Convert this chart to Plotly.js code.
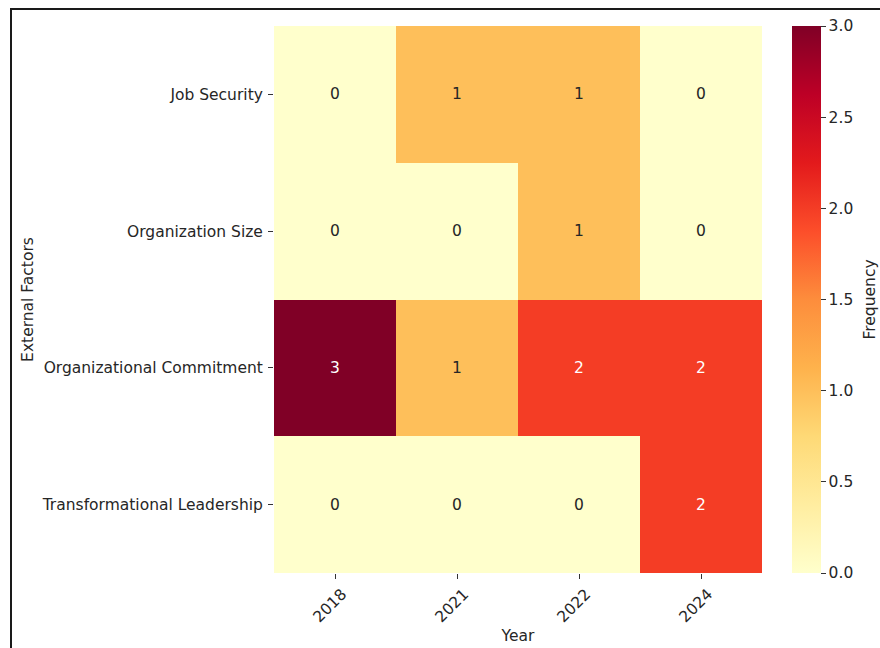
<!DOCTYPE html>
<html>
<head>
<meta charset="utf-8">
<script src="https://cdn.plot.ly/plotly-3.0.1.min.js"></script>
<style>
  html, body { margin: 0; padding: 0; background: #fff; overflow: hidden; }
  #wrap { position: relative; width: 880px; height: 648px; }
  #chart { position: absolute; left: 0; top: 0; width: 880px; height: 648px; }
  #frame { position: absolute; left: 10px; top: 8px; width: 900px; height: 700px;
           border-left: 2px solid #1a1a1a; border-top: 2px solid #1a1a1a; pointer-events: none; }
</style>
</head>
<body>
<div id="wrap">
  <div id="chart"></div>
  <div id="frame"></div>
</div>
<script>
// Years on the x axis, factors on the y axis (top to bottom)
const years = ['2018', '2021', '2022', '2024'];
const factors = ['Job Security', 'Organization Size', 'Organizational Commitment', 'Transformational Leadership'];

// Frequency counts, one row per factor
const jobSecurity = [0, 1, 1, 0];
const organizationSize = [0, 0, 1, 0];
const organizationalCommitment = [3, 1, 2, 2];
const transformationalLeadership = [0, 0, 0, 2];

const colorbarTicks = [0, 0.5, 1, 1.5, 2, 2.5, 3];

const z = [jobSecurity, organizationSize, organizationalCommitment, transformationalLeadership];

// Cell positions are indices; labels come from the arrays above
const xIdx = years.map((_, i) => i);
const yIdx = factors.map((_, i) => i);

// YlOrRd sequential scale
const ylOrRd = [
  [0.0, '#ffffcc'], [0.125, '#ffeda0'], [0.25, '#fed976'], [0.375, '#feb24c'],
  [0.5, '#fd8d3c'], [0.625, '#fc4e2a'], [0.75, '#e31a1c'], [0.875, '#bd0026'], [1.0, '#800026']
];

const font = 'DejaVu Sans, sans-serif';
const fs = 15.5;
const ink = '#262626';
const zmax = 3;

// Cell value labels, light text on the darker cells
const annotations = [];
z.forEach((row, i) => {
  row.forEach((v, j) => {
    annotations.push({
      x: xIdx[j], y: yIdx[i], xref: 'x', yref: 'y',
      text: String(v), showarrow: false,
      font: { family: font, size: fs, color: v / zmax > 0.5 ? '#ffffff' : ink }
    });
  });
});

// Colorbar title, rotated, to the right of the tick labels
annotations.push({
  x: 1.2213, y: 0.5, xref: 'paper', yref: 'paper',
  xanchor: 'center', yanchor: 'middle',
  text: 'Frequency', textangle: -90, showarrow: false,
  font: { family: font, size: fs, color: ink }
});

const trace = {
  type: 'heatmap',
  x: xIdx,
  y: yIdx,
  z: z,
  zmin: 0,
  zmax: zmax,
  colorscale: ylOrRd,
  xgap: 0, ygap: 0,
  hoverinfo: 'skip',
  colorbar: {
    x: 1.0615, xanchor: 'left', xref: 'paper',
    y: 0.5, yanchor: 'middle',
    len: 1, lenmode: 'fraction',
    xpad: 0, ypad: 0,
    thickness: 29, thicknessmode: 'pixels',
    outlinewidth: 0,
    tickmode: 'array', tickvals: colorbarTicks,
    ticktext: colorbarTicks.map(t => t.toFixed(1)),
    ticks: 'outside', ticklen: 5, tickcolor: '#333', tickwidth: 1,
    tickfont: { family: font, size: fs, color: ink }
  }
};

const layout = {
  width: 880, height: 648,
  margin: { l: 274, r: 118, t: 26, b: 75, autoexpand: false },
  paper_bgcolor: '#ffffff', plot_bgcolor: '#ffffff',
  font: { family: font, size: fs, color: ink },
  xaxis: {
    range: [-0.5, years.length - 0.5],
    tickmode: 'array', tickvals: xIdx, ticktext: years,
    showgrid: false, zeroline: false, showline: false,
    ticks: 'outside', ticklen: 5, tickcolor: '#333', tickwidth: 1,
    tickangle: -45,
    ticklabelshift: 7,
    tickfont: { family: font, size: fs, color: ink },
    title: { text: 'Year', font: { family: font, size: fs, color: ink }, standoff: 5 }
  },
  yaxis: {
    range: [factors.length - 0.5, -0.5],
    tickmode: 'array', tickvals: yIdx, ticktext: factors,
    showgrid: false, zeroline: false, showline: false,
    ticks: 'outside', ticklen: 5, tickcolor: '#333', tickwidth: 1,
    ticklabelstandoff: 2,
    tickfont: { family: font, size: fs, color: ink },
    title: { text: 'External Factors', font: { family: font, size: fs, color: ink }, standoff: 4 }
  },
  annotations: annotations
};

Plotly.newPlot('chart', [trace], layout, { displayModeBar: false, staticPlot: true });
</script>
</body>
</html>
